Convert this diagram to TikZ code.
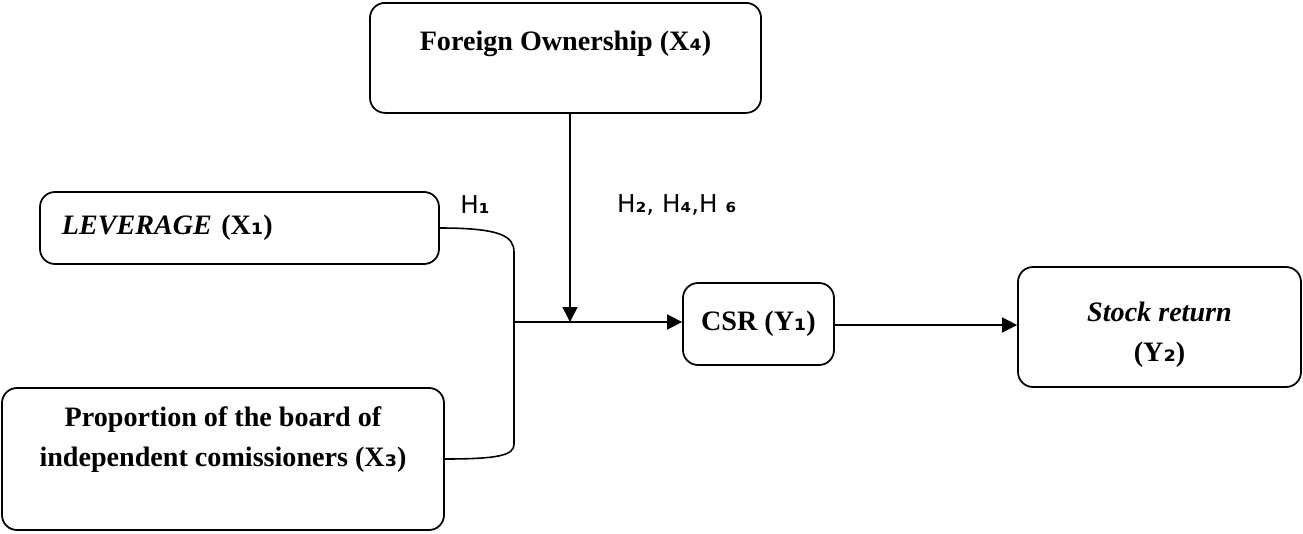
\documentclass[tikz,border=0pt]{standalone}
\usepackage{fontspec}
\setmainfont{Liberation Serif}
\newfontfamily\subfont{DejaVu Sans}
\newfontfamily\hfont{DejaVu Sans}
\usetikzlibrary{calc}
\usetikzlibrary{arrows.meta}
\newcommand\sbs[1]{{\subfont\bfseries #1}}

\begin{document}
\begin{tikzpicture}[x=0.2mm,y=-0.2mm,
    box/.style={draw,line width=1pt,rounded corners=3mm,inner sep=0pt,
      font=\fontsize{16}{22.7}\selectfont\bfseries,align=center},
    arr/.style={line width=0.9pt,-{Triangle[length=3mm,width=3mm]}},
    hyp/.style={font=\hfont\fontsize{14}{16}\selectfont}]
  % Boundary
  \path[use as bounding box] (0,0) rectangle (1303,533);
  % Boxes
  \node[box,anchor=north,minimum width=78.2mm,text height=9.6mm,text depth=12.4mm]
    (fo) at (565.5,2) {Foreign Ownership (X\sbs{₄})};
  \node[box,minimum width=79.8mm,minimum height=14.4mm,text width=71mm,align=left]
    (lev) at (239.5,228) {\textit{LEVERAGE} (X\sbs{₁})};
  \node[box,minimum width=88.4mm,minimum height=28.4mm]
    (prop) at (223,459) {\rule{0pt}{15pt}Proportion of the board of\\independent comissioners (X\sbs{₃})\\\strut};
  \node[box,minimum width=30.2mm,minimum height=16.4mm]
    (csr) at (758.5,324) {CSR (Y\sbs{₁})};
  \node[box,minimum width=56.6mm,minimum height=24mm]
    (st) at (1159.5,327) {\rule{0pt}{20pt}\textit{Stock return}\\(Y\sbs{₂})};
  % Hypotheses
  \node[hyp] (h1) at (475,205) {H{\bfseries ₁}};
  \node[hyp,anchor=west] (h2) at (611,205) {H{\bfseries ₂}, H{\bfseries ₄},H {\bfseries ₆}};
  % Connectors
  \coordinate (j) at (514,322);
  \coordinate (m) at (570,322);
  \draw[line width=0.9pt] (lev.east) .. controls (500,228) and (514,236) .. (514,252)
    -- (514,444) .. controls (514,455) and (500,459) .. (prop.east);
  \draw[arr] (j) -- (csr.west |- j);
  \draw[arr] (fo.south -| m) -- (m);
  \draw[arr] (csr.east |- 0,325) -- (st.west |- 0,325);
\end{tikzpicture}
\end{document}
